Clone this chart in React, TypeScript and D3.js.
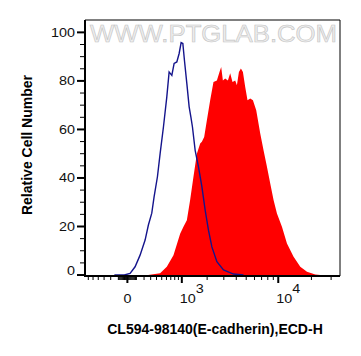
import React, { useEffect, useRef } from "react";
import * as d3 from "d3";

// isotype control (blue outline)
const isotypeX = [-150, -32, 28, 84, 146, 215, 264, 318, 357, 417, 468, 535, 608, 661, 726, 784, 856, 921, 979, 1031, 1081, 1160, 1239, 1300, 1359, 1463, 1599, 1748, 1903, 2068, 2251, 2543, 2977, 3755, 4706];
const isotypeY = [0, 0, 0.7, 3.4, 8.2, 14.4, 20.6, 25.5, 32.2, 40.5, 50, 61, 73.4, 83.7, 82.3, 87.2, 87.8, 91.3, 95.8, 95.4, 88.5, 78.9, 69.3, 65.2, 61, 51.4, 44.6, 36.4, 26.7, 18.5, 11.6, 5.5, 2.1, 0.4, 0];

// E-cadherin stained (red fill)
const stainedX = [260, 468, 608, 767, 950, 1050, 1160, 1274, 1397, 1532, 1672, 1748, 1855, 1987, 2158, 2341, 2543, 2708, 2820, 2935, 3099, 3300, 3481, 3670, 3905, 4058, 4246, 4442, 4646, 4890, 5146, 5464, 5798, 6231, 6799, 7302, 7857, 8432, 9049, 9726, 10811, 12016, 13803, 15874, 18250, 21670, 24021];
const stainedY = [0, 0.7, 3.4, 8.2, 17, 19.9, 22.6, 30.9, 40.5, 50, 54.2, 54.9, 56.9, 63.8, 72, 79.5, 80.2, 83.7, 85.7, 80.2, 81, 80.2, 83.2, 79.5, 80.2, 78.2, 83.7, 85.1, 83.7, 77.5, 72, 72.7, 72, 67.9, 58.3, 51.4, 44.6, 37.7, 30.9, 25.4, 19.9, 13, 7.5, 3.4, 1.4, 0.2, 0];

const yMajor = [0, 20, 40, 60, 80, 100];
const yMinor = [5, 10, 15, 25, 30, 35, 45, 50, 55, 65, 70, 75, 85, 90, 95];
const xMajor = [0, 1000, 10000];
const xBase = ["0", "10", "10"];
const xExp = ["", "3", "4"];
const xMinor = [-600, -500, -400, -300, -200, -100, -90, -80, -70, -60, -50, -40, -30, -20, -10, 10, 20, 30, 40, 50, 60, 70, 80, 90, 100, 200, 300, 400, 500, 600, 700, 800, 900, 2000, 3000, 4000, 5000, 6000, 7000, 8000, 9000, 20000, 30000];

const W = 361;
const H = 356;
const left = 85;
const right = 340;
const top = 20;
const bottom = 276;
const font = "'Liberation Sans', Arial, sans-serif";

export default function App() {
  const svgRef = useRef<SVGSVGElement>(null);

  useEffect(() => {
    document.body.style.margin = "0";
    const svg = d3.select(svgRef.current);
    svg.selectAll("*").remove();

    const x = d3.scaleSymlog().constant(500).domain([-676, 36000]).range([left, right]);
    const y = d3.scaleLinear().domain([-0.4, 105.1]).range([bottom, top]);

    // watermark
    svg
      .append("text")
      .attr("x", 90)
      .attr("y", 42)
      .attr("textLength", 247)
      .attr("lengthAdjust", "spacingAndGlyphs")
      .style("font-family", font)
      .style("font-size", "23px")
      .attr("fill", "#eeeeee")
      .attr("stroke", "#c4c4c4")
      .attr("stroke-width", 0.6)
      .text("WWW.PTGLAB.COM");

    const stained = stainedX.map((v, i) => [v, stainedY[i]] as [number, number]);
    const isotype = isotypeX.map((v, i) => [v, isotypeY[i]] as [number, number]);

    const area = d3
      .area<[number, number]>()
      .x((d) => x(d[0]))
      .y0(y(0))
      .y1((d) => y(d[1]));
    svg.append("path").attr("d", area(stained)).attr("fill", "#ff0000");

    const line = d3
      .line<[number, number]>()
      .x((d) => x(d[0]))
      .y((d) => y(d[1]));
    svg
      .append("path")
      .attr("d", line(isotype))
      .attr("fill", "none")
      .attr("stroke", "#14148c")
      .attr("stroke-width", 1.4);

    // frame
    svg
      .append("path")
      .attr("d", `M${left},${top}H${right}V${bottom}`)
      .attr("fill", "none")
      .attr("stroke", "#000")
      .attr("stroke-width", 1);
    svg
      .append("path")
      .attr("d", `M${left},${top}V${bottom}H${right}`)
      .attr("fill", "none")
      .attr("stroke", "#000")
      .attr("stroke-width", 2);

    // y ticks
    svg
      .selectAll(".ymaj")
      .data(yMajor)
      .join("line")
      .attr("x1", left - 8)
      .attr("x2", left)
      .attr("y1", (d) => y(d))
      .attr("y2", (d) => y(d))
      .attr("stroke", "#000")
      .attr("stroke-width", 2);
    svg
      .selectAll(".ymin")
      .data(yMinor)
      .join("line")
      .attr("x1", left - 5)
      .attr("x2", left)
      .attr("y1", (d) => y(d))
      .attr("y2", (d) => y(d))
      .attr("stroke", "#000")
      .attr("stroke-width", 1);
    svg
      .selectAll(".ylab")
      .data(yMajor)
      .join("text")
      .attr("transform", (d) => `translate(75,${y(d) + (d === 0 ? 0 : 4.5)}) scale(1.15,1)`)
      .attr("text-anchor", "end")
      .style("font-family", font)
      .style("font-size", "12.5px")
      .attr("fill", "#111")
      .text((d) => String(d));

    // x ticks
    svg
      .selectAll(".xmaj")
      .data(xMajor)
      .join("line")
      .attr("x1", (d) => x(d))
      .attr("x2", (d) => x(d))
      .attr("y1", bottom)
      .attr("y2", bottom + 7)
      .attr("stroke", "#000")
      .attr("stroke-width", 2);
    svg
      .selectAll(".xmin")
      .data(xMinor)
      .join("line")
      .attr("x1", (d) => x(d))
      .attr("x2", (d) => x(d))
      .attr("y1", bottom)
      .attr("y2", bottom + 4)
      .attr("stroke", "#000")
      .attr("stroke-width", 1);

    xMajor.forEach((v, i) => {
      const t = svg
        .append("text")
        .attr("transform", `translate(${i === 0 ? x(v) : x(v) - 2},303) scale(1.15,1)`)
        .attr("text-anchor", i === 0 ? "middle" : "start")
        .style("font-family", font)
        .style("font-size", "12.5px")
        .attr("fill", "#111");
      t.append("tspan").text(xBase[i]);
      if (xExp[i]) t.append("tspan").attr("dy", -10).text(xExp[i]);
    });

    // axis titles
    svg
      .append("text")
      .attr("x", 215)
      .attr("y", 334)
      .attr("text-anchor", "middle")
      .style("font-family", font)
      .style("font-size", "14px")
      .style("font-weight", "bold")
      .text("CL594-98140(E-cadherin),ECD-H");
    svg
      .append("text")
      .attr("transform", `translate(32,145) rotate(-90)`)
      .attr("text-anchor", "middle")
      .style("font-family", font)
      .style("font-size", "14px")
      .style("font-weight", "bold")
      .text("Relative Cell Number");
  }, []);

  return <svg ref={svgRef} width={W} height={H} style={{ display: "block", background: "#fff" }} />;
}
